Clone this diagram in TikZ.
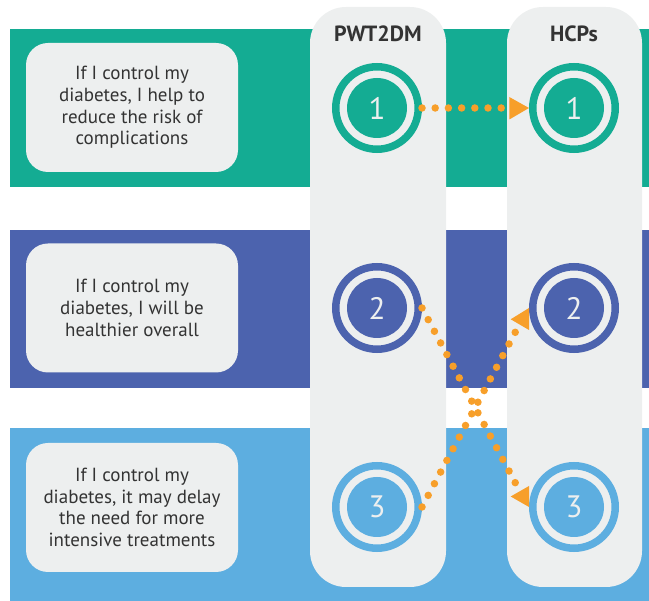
\documentclass[tikz,border=0pt]{standalone}
\usepackage{fontspec}
\setmainfont{PT Sans}
\usetikzlibrary{calc}

\definecolor{bandteal}{HTML}{14AC93}
\definecolor{bandblue}{HTML}{4C63AE}
\definecolor{bandsky}{HTML}{5DAEE0}
\definecolor{panel}{HTML}{EDEFEF}
\definecolor{dotorange}{HTML}{F79F2A}
\definecolor{ink}{HTML}{333333}

\begin{document}
\begin{tikzpicture}[x=1pt,y=-1pt,
  statement/.style={rectangle, rounded corners=22pt, fill=panel,
    minimum width=212pt, minimum height=129pt, inner sep=0pt,
    align=center, text=ink, font=\fontsize{19}{21.7}\selectfont},
  colhead/.style={text=ink, font=\fontsize{22}{26}\selectfont\bfseries},
  ring/.style={circle, minimum size=82.5pt, inner sep=0pt, line width=7.5pt,
    draw=#1, text=panel, font=\fontsize{31}{32}\selectfont,
    path picture={\fill[#1] (path picture bounding box.center) circle[radius=30pt];}},
  dots/.style={dotorange, line width=7.5pt, line cap=round,
    dash pattern=on 0pt off 13.2pt},
  tip/.style={fill=dotorange}]
\useasboundingbox (0,0) rectangle (649,601);

% horizontal bands
\fill[bandteal] (10,29) rectangle (649,187);
\fill[bandblue] (10,230) rectangle (649,388);
\fill[bandsky] (10,428) rectangle (649,601);

% the two vertical columns
\fill[panel, rounded corners=36pt] (310,7) rectangle (446,587);
\fill[panel, rounded corners=36pt] (507,7) rectangle (642,587);

% column headings
\node[colhead] (hp) at (378,34) {PWT2DM};
\node[colhead] (hh) at (574,34) {HCPs};

% statements
\node[statement] (s1) at (132,107.5) {If I control my\\diabetes, I help to\\reduce the risk of\\complications};
\node[statement] (s2) at (132,308) {If I control my\\diabetes, I will be\\healthier overall};
\node[statement] (s3) at (132,507.5) {If I control my\\diabetes, it may delay\\the need for more\\intensive treatments};

% numbered rings
\node[ring=bandteal] (p1) at (377,108) {1};
\node[ring=bandteal] (h1) at (574,108) {1};
\node[ring=bandblue] (p2) at (377,308) {2};
\node[ring=bandblue] (h2) at (574,308) {2};
\node[ring=bandsky]  (p3) at (377,507) {3};
\node[ring=bandsky]  (h3) at (574,507) {3};

% dotted connectors
\coordinate (e1) at (502,108);
\coordinate (e2) at (515.3,482.8);
\coordinate (e3) at (515.3,332.2);
\draw[dots] (p1.east) -- (e1);
\draw[dots] (p2.east) -- (e2);
\draw[dots] (p3.east) -- (e3);

% arrowheads
\fill[tip] (509.3,97) -- (h1.west) -- (509.3,119.5) -- cycle;
\fill[tip] (h2.west) -- ++(0,22) -- (510.7,319.3) -- cycle;
\fill[tip] (h3.west) -- ++(0,-21) -- (510.7,496.5) -- cycle;
\end{tikzpicture}
\end{document}
